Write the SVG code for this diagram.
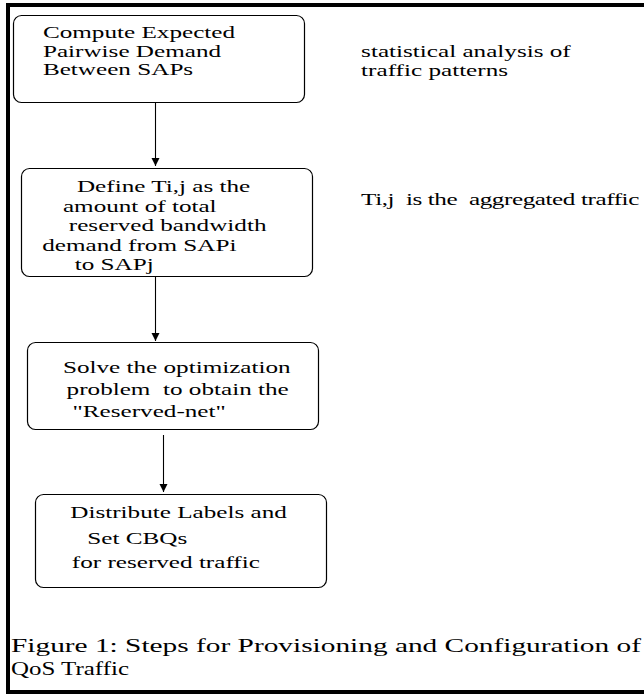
<svg xmlns="http://www.w3.org/2000/svg" width="644" height="694" viewBox="0 0 644 694">
  <style>
    .box { fill: #ffffff; stroke: #000000; stroke-width: 1.2; }
    .wire { stroke: #000000; stroke-width: 1.1; fill: none; }
    .t { font-family: "Liberation Serif", "Times New Roman", serif; font-size: 17px; fill: #000000; white-space: pre; }
    .cap { font-family: "Liberation Serif", "Times New Roman", serif; font-size: 19px; fill: #000000; }
  </style>
  <defs>
    <marker id="head" viewBox="0 0 8 12" refX="8" refY="6" markerWidth="8" markerHeight="12" markerUnits="userSpaceOnUse" orient="auto">
      <path d="M0,2 L8,6 L0,10 z" fill="#000000"/>
    </marker>
  </defs>
  <rect width="644" height="694" fill="#ffffff"/>

  <!-- page frame -->
  <g id="frame" fill="#000000">
    <rect x="6" y="3" width="638" height="4"/>
    <rect x="6" y="3" width="4" height="691"/>
    <rect x="6" y="690" width="638" height="4"/>
  </g>

  <!-- connectors -->
  <g id="connectors">
    <line class="wire" x1="155.5" y1="102" x2="155.5" y2="166" marker-end="url(#head)"/>
    <line class="wire" x1="155.5" y1="276" x2="155.5" y2="341" marker-end="url(#head)"/>
    <line class="wire" x1="163.5" y1="435" x2="163.5" y2="492" marker-end="url(#head)"/>
  </g>

  <!-- step 1 -->
  <g id="step1">
    <rect class="box" x="13.5" y="15.5" width="291" height="87" rx="8"/>
    <g transform="scale(1.48 1)">
      <text class="t" x="29" y="38">Compute Expected</text>
      <text class="t" x="29" y="57">Pairwise Demand</text>
      <text class="t" x="29" y="75">Between SAPs</text>
    </g>
  </g>

  <!-- step 2 -->
  <g id="step2">
    <rect class="box" x="21.5" y="168.5" width="291" height="108" rx="8"/>
    <g transform="scale(1.48 1)">
      <text class="t" x="52" y="192">Define Ti,j as the</text>
      <text class="t" x="42.5" y="212">amount of total</text>
      <text class="t" x="46.5" y="231">reserved bandwidth</text>
      <text class="t" x="28.5" y="251">demand from SAPi</text>
      <text class="t" x="50.5" y="270">to SAPj</text>
    </g>
  </g>

  <!-- step 3 -->
  <g id="step3">
    <rect class="box" x="27.5" y="342.5" width="291" height="87" rx="8"/>
    <g transform="scale(1.48 1)">
      <text class="t" x="42.5" y="373">Solve the optimization</text>
      <text class="t" x="45" y="395">problem  to obtain the</text>
      <text class="t" x="49" y="417">"Reserved-net"</text>
    </g>
  </g>

  <!-- step 4 -->
  <g id="step4">
    <rect class="box" x="35.5" y="494.5" width="291" height="93" rx="8"/>
    <g transform="scale(1.48 1)">
      <text class="t" x="47.5" y="518">Distribute Labels and</text>
      <text class="t" x="59" y="544">Set CBQs</text>
      <text class="t" x="48.5" y="568">for reserved traffic</text>
    </g>
  </g>

  <!-- side notes -->
  <g id="note1">
    <g transform="scale(1.48 1)">
      <text class="t" x="244" y="57">statistical analysis of</text>
      <text class="t" x="244" y="76">traffic patterns</text>
    </g>
  </g>
  <g id="note2">
    <g transform="scale(1.48 1)">
      <text class="t" x="244" y="205" textLength="188" lengthAdjust="spacing">Ti,j  is the  aggregated traffic</text>
    </g>
  </g>

  <!-- caption -->
  <g id="caption">
    <text class="cap" x="11" y="652" textLength="630" lengthAdjust="spacingAndGlyphs">Figure 1: Steps for Provisioning and Configuration of</text>
    <text class="cap" x="11" y="675" textLength="118" lengthAdjust="spacingAndGlyphs">QoS Traffic</text>
  </g>
</svg>
